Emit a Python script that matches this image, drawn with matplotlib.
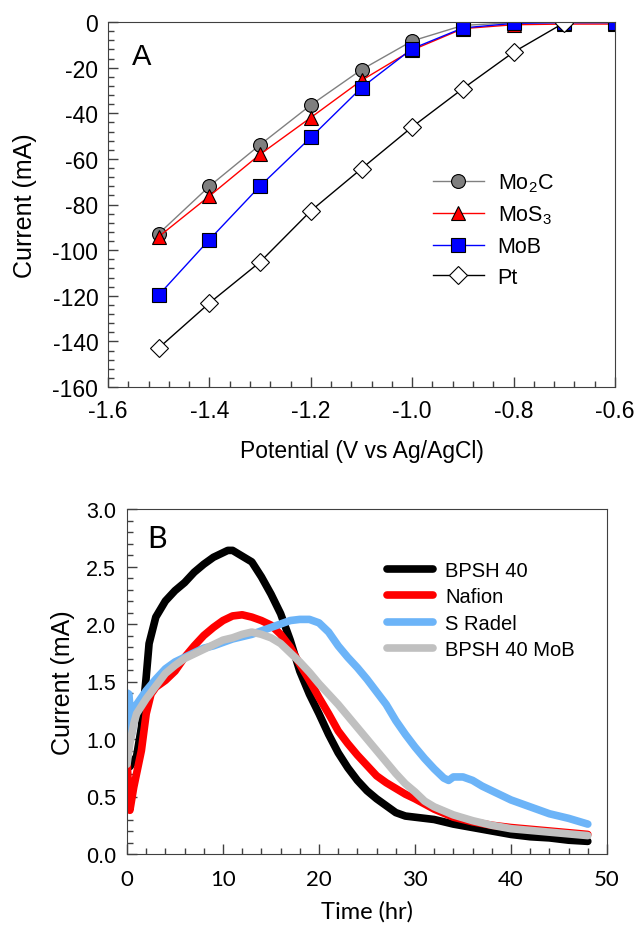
import matplotlib
matplotlib.use("Agg")
import matplotlib.pyplot as plt
from matplotlib.ticker import MultipleLocator, AutoMinorLocator

plt.rcParams['font.family'] = ['Liberation Sans', 'DejaVu Sans']
plt.rcParams['axes.unicode_minus'] = False
plt.rcParams['mathtext.fontset'] = 'custom'
plt.rcParams['mathtext.rm'] = 'Liberation Sans'
plt.rcParams['mathtext.it'] = 'Liberation Sans'

# ---------------- Panel A data ----------------
potential = [-1.5, -1.4, -1.3, -1.2, -1.1, -1.0, -0.9, -0.8, -0.7, -0.6]
mo2c = [-92.8, -72.0, -53.8, -36.4, -20.9, -8.3, -1.5, -0.3, 0.0, 0.0]
mos3 = [-94.1, -76.3, -58.0, -41.9, -25.6, -12.3, -2.9, -1.2, -0.9, -0.9]
mob = [-119.7, -95.4, -71.9, -50.6, -28.8, -11.7, -2.6, -0.6, -0.3, -0.3]
pt_potential = [-1.5, -1.4, -1.3, -1.2, -1.1, -1.0, -0.9, -0.8, -0.7]
pt = [-142.9, -123.2, -105.2, -82.8, -64.3, -46.0, -29.2, -13.2, -0.3]

# ---------------- Panel B data ----------------
t_bpsh = [0, 0.3, 1, 1.5, 2, 2.3, 3, 4, 5, 6, 7, 8, 9, 10, 10.5, 11, 12, 13, 14, 15, 16, 17, 18,
          19, 20, 21, 22, 23, 24, 25, 26, 27, 28, 29, 30, 32, 34, 36, 38, 40, 42, 44, 46, 48]
i_bpsh = [0.84, 0.76, 0.85, 1.10, 1.54, 1.83, 2.06, 2.20, 2.29, 2.36, 2.45, 2.52, 2.58, 2.62, 2.64,
          2.64, 2.59, 2.54, 2.41, 2.26, 2.09, 1.86, 1.59, 1.39, 1.22, 1.04, 0.88, 0.75, 0.64, 0.55,
          0.48, 0.42, 0.36, 0.33, 0.32, 0.30, 0.26, 0.23, 0.20, 0.17, 0.15, 0.14, 0.12, 0.11]

t_nafion = [0, 0.3, 0.7, 1, 1.5, 2, 2.5, 3, 4, 5, 6, 7, 8, 9, 10, 11, 12, 13, 14, 15, 16, 17, 18,
            19, 20, 21, 22, 23, 24, 25, 26, 27, 28, 29, 30, 32, 34, 36, 38, 40, 44, 48]
i_nafion = [0.81, 0.38, 0.58, 0.70, 0.90, 1.22, 1.39, 1.45, 1.51, 1.59, 1.71, 1.81, 1.90, 1.97,
            2.03, 2.07, 2.08, 2.06, 2.03, 1.99, 1.91, 1.80, 1.65, 1.51, 1.36, 1.22, 1.07, 0.96,
            0.86, 0.77, 0.68, 0.62, 0.57, 0.52, 0.48, 0.39, 0.32, 0.28, 0.25, 0.23, 0.20, 0.17]

t_radel = [0, 0.2, 0.5, 1, 2, 3, 4, 5, 6, 7, 8, 9, 10, 11, 12, 13, 14, 15, 16, 17, 18, 19, 20, 21,
           22, 23, 24, 25, 26, 27, 28, 29, 30, 31, 32, 33, 33.5, 34, 35, 36, 37, 38, 39, 40, 42,
           44, 46, 48]
i_radel = [1.40, 1.39, 1.05, 1.30, 1.42, 1.52, 1.61, 1.67, 1.71, 1.75, 1.79, 1.81, 1.84, 1.87,
           1.89, 1.91, 1.94, 1.97, 2.00, 2.03, 2.04, 2.04, 2.01, 1.93, 1.81, 1.71, 1.62, 1.52,
           1.41, 1.30, 1.16, 1.04, 0.93, 0.83, 0.74, 0.66, 0.64, 0.67, 0.67, 0.64, 0.59, 0.55,
           0.51, 0.47, 0.41, 0.35, 0.31, 0.26]

t_mob = [0, 0.3, 0.7, 1, 2, 3, 4, 5, 6, 7, 8, 9, 10, 11, 12, 13, 14, 15, 16, 17, 18, 19, 20, 21,
         22, 23, 24, 25, 26, 27, 28, 29, 30, 31, 32, 34, 36, 38, 40, 44, 48]
i_mob = [0.78, 0.96, 1.13, 1.22, 1.35, 1.46, 1.57, 1.64, 1.70, 1.74, 1.78, 1.82, 1.86, 1.88, 1.91,
         1.93, 1.91, 1.88, 1.83, 1.75, 1.67, 1.58, 1.48, 1.39, 1.30, 1.20, 1.10, 1.00, 0.90, 0.80,
         0.70, 0.61, 0.54, 0.46, 0.41, 0.34, 0.29, 0.25, 0.22, 0.19, 0.16]

W, H = 636, 929
fig = plt.figure(figsize=(W / 100, H / 100), dpi=100)

def box(l, t, r, b):
    return [l / W, 1 - b / H, (r - l) / W, (b - t) / H]

spine_c = '#404040'

# ---------------- Panel A ----------------
ax1 = fig.add_axes(box(108, 23, 615, 388))
ax1.plot(potential, mo2c, color='#808080', lw=1.0, marker='o', ms=10, mfc='#7f7f7f',
         mec='black', mew=0.8, label='Mo$_2$C')
ax1.plot(potential, mos3, color='red', lw=1.0, marker='^', ms=10.5, mfc='red',
         mec='black', mew=0.8, label='MoS$_3$')
ax1.plot(potential, mob, color='blue', lw=1.0, marker='s', ms=9.5, mfc='blue',
         mec='black', mew=0.8, label='MoB')
ax1.plot(pt_potential, pt, color='black', lw=1.0, marker='D', ms=9, mfc='white',
         mec='black', mew=0.8, label='Pt')
ax1.set_xlim(-1.6, -0.6)
ax1.set_ylim(-160, 0)
ax1.xaxis.set_major_locator(MultipleLocator(0.2))
ax1.xaxis.set_minor_locator(AutoMinorLocator(5))
ax1.yaxis.set_major_locator(MultipleLocator(20))
ax1.yaxis.set_minor_locator(AutoMinorLocator(5))
ax1.xaxis.set_major_formatter(plt.FuncFormatter(lambda v, p: f"{v:.1f}"))
ax1.yaxis.set_major_formatter(plt.FuncFormatter(lambda v, p: f"{v:.0f}"))
ax1.tick_params(which='both', direction='in', top=False, right=False, color=spine_c,
                labelsize=16.5, width=1)
ax1.tick_params(which='major', length=7)
ax1.tick_params(which='minor', length=4)
ax1.tick_params(axis='x', pad=9)
ax1.tick_params(axis='y', pad=7)
for s in ax1.spines.values():
    s.set_color(spine_c)
ax1.set_xlabel('Potential (V vs Ag/AgCl)', fontsize=16.5, labelpad=12)
ax1.set_ylabel('Current (mA)', fontsize=18, labelpad=11)
ax1.text(0.047, 0.907, 'A', transform=ax1.transAxes, fontsize=21, ha='left', va='center')
ax1.legend(loc='upper left', bbox_to_anchor=(0.619, 0.62), frameon=False, fontsize=15.5,
           handlelength=2.37, handletextpad=0.65, labelspacing=0.45, borderpad=0)

# ---------------- Panel B ----------------
ax2 = fig.add_axes(box(127, 510, 607, 855))
lw = 5.5
ax2.plot(t_bpsh, i_bpsh, color='black', lw=lw, solid_capstyle='round', solid_joinstyle='round',
         label='BPSH 40')
ax2.plot(t_nafion, i_nafion, color='#ff0000', lw=lw, solid_capstyle='round',
         solid_joinstyle='round', label='Nafion')
ax2.plot(t_radel, i_radel, color='#6cb4f8', lw=lw, solid_capstyle='round',
         solid_joinstyle='round', label='S Radel')
ax2.plot(t_mob, i_mob, color='#c0c0c0', lw=lw, solid_capstyle='round',
         solid_joinstyle='round', label='BPSH 40 MoB')
ax2.set_xlim(0, 50)
ax2.set_ylim(0, 3.0)
ax2.xaxis.set_major_locator(MultipleLocator(10))
ax2.xaxis.set_minor_locator(AutoMinorLocator(5))
ax2.yaxis.set_major_locator(MultipleLocator(0.5))
ax2.yaxis.set_minor_locator(AutoMinorLocator(5))
ax2.yaxis.set_major_formatter(plt.FuncFormatter(lambda v, p: f"{v:.1f}"))
ax2.tick_params(which='both', direction='in', top=False, right=False, color=spine_c, width=1)
ax2.tick_params(which='major', length=7)
ax2.tick_params(which='minor', length=4)
ax2.tick_params(axis='y', labelsize=15.5, pad=8)
ax2.tick_params(axis='x', labelsize=16, pad=11)
for lab in ax2.get_xticklabels():
    lab.set_fontfamily('Lato')
for s in ax2.spines.values():
    s.set_color(spine_c)
ax2.set_xlabel('Time (hr)', fontsize=17, fontfamily='Lato', labelpad=8)
ax2.set_ylabel('Current (mA)', fontsize=18, labelpad=8)
ax2.text(0.042, 0.916, 'B', transform=ax2.transAxes, fontsize=22, fontfamily='Lato',
         ha='left', va='center')
ax2.legend(loc='upper left', bbox_to_anchor=(0.52, 0.878), frameon=False, fontsize=14.5,
           handlelength=2.3, handletextpad=0.6, labelspacing=0.36, borderpad=0)

fig.savefig('out.png', dpi=100)
